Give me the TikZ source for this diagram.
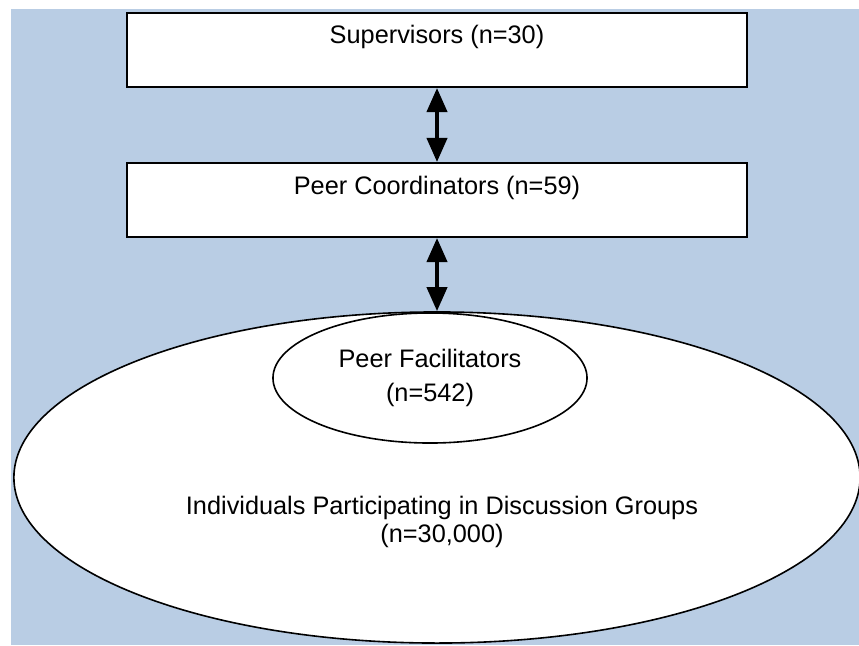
\documentclass[tikz,border=0pt]{standalone}
\usepackage{fontspec}
\setmainfont{Liberation Sans}
\usetikzlibrary{shapes.geometric,arrows.meta,positioning}
\definecolor{bgblue}{RGB}{185,205,228}

\begin{document}
\begin{tikzpicture}[x=0.025cm, y=-0.025cm,
    levelbox/.style={rectangle, draw=black, line width=0.05cm, fill=white, minimum width=15.5cm, inner sep=0pt, font=\fontsize{18}{20}\selectfont},
    groupell/.style={ellipse, draw=black, line width=0.04cm, fill=white, inner sep=0pt},
    twoway/.style={{Triangle[width=0.5cm,length=0.6cm]}-{Triangle[width=0.5cm,length=0.6cm]}, line width=0.1cm, black}]
    % background panel
    \useasboundingbox (0,0) rectangle (859,645);
    \fill[bgblue] (11,9) rectangle (859,645);

    % upper levels
    \node[levelbox, text height=0.75cm, text depth=1.1cm] (sup) at (437,50) {Supervisors (n=30)};
    \node[levelbox, text height=0.78cm, text depth=1.07cm] (coord) at (437,200) {Peer Coordinators (n=59)};

    % nested groups
    \node[groupell, minimum width=21.15cm, minimum height=8.275cm] (grp) at (437,477.5) {};
    \node[groupell, minimum width=7.85cm, minimum height=3.25cm, align=center,
        font=\fontsize{18}{24.8}\selectfont] (fac) at (430,378) {Peer Facilitators\\(n=542)};
    \node[align=center, font=\fontsize{18}{20}\selectfont] (grptext) at (442,522)
        {Individuals Participating in Discussion Groups\\(n=30,000)};

    \draw[twoway] (sup.south) -- (coord.north);
    \draw[twoway] (coord.south) -- (grp.north);
\end{tikzpicture}
\end{document}
